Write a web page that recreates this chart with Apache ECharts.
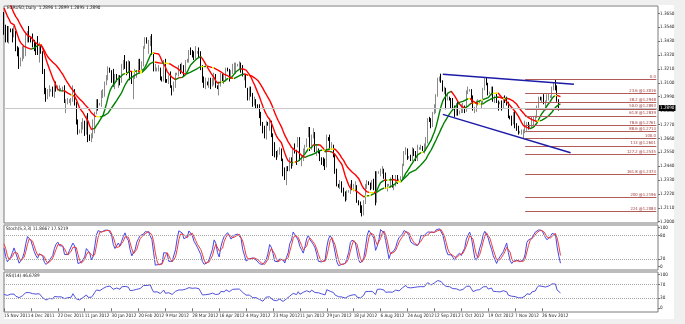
<!DOCTYPE html>
<html><head><meta charset="utf-8">
<script src="https://cdn.jsdelivr.net/npm/echarts@6/dist/echarts.min.js"></script>
<style>html,body{margin:0;padding:0;background:#f0f0f0}#c{width:685px;height:324px}</style>
</head><body><div id="c"></div>
<script>
// ---- data (prices in pips: price = 1 + value/10000) ----
// first WARMUP bars (18 Oct - 14 Nov 2011) only seed the indicators
const WARMUP = 24;
const opens = [
3690,3760,3760,3720,3890,3900,3910,3890,3910,4150,4140,4130,3860,3690,3780,3800,3790,3770,3770,3800,3530,3600,3750,3740,
3640,3530,3470,3450,3520,3510,3480,3500,3360,3340,3240,3290,3320,3320,3450,3460,
3450,3430,3400,3390,3380,3350,3380,3340,3180,3030,2990,3020,3040,3040,3000,3070,
3050,3050,3050,3050,3070,2940,2940,2960,2960,2970,3050,2940,2790,2720,2720,2760,
2780,2710,2820,2680,2660,2670,2740,2850,2960,2930,2930,3010,3040,3100,3140,3210,
3190,3140,3080,3160,3150,3150,3110,3230,3270,3260,3200,3260,3130,3100,3150,3150,
3190,3240,3230,3240,3380,3450,3420,3420,3460,3330,3200,3200,3210,3210,3140,3120,
3270,3120,3110,3140,3060,3050,3070,3170,3170,3230,3200,3230,3190,3270,3280,3340,
3330,3320,3300,3340,3340,3320,3230,3110,3070,3100,3090,3110,3080,3130,3160,3070,
3060,3080,3160,3120,3140,3210,3200,3150,3190,3230,3230,3240,3240,3240,3230,3160,
3160,3030,3010,3050,3010,2940,2960,2920,2910,2830,2780,2710,2670,2780,2770,2780,
2680,2580,2530,2520,2560,2560,2490,2380,2360,2430,2420,2500,2450,2570,2560,2600,
2620,2490,2500,2570,2600,2680,2700,2580,2680,2700,2560,2570,2550,2500,2490,2470,
2440,2660,2650,2590,2600,2530,2390,2290,2280,2290,2250,2220,2180,2240,2240,2290,
2270,2270,2280,2160,2140,2110,2060,2160,2290,2310,2300,2270,2300,2280,2170,2390,
2390,2400,2410,2370,2280,2290,2290,2340,2280,2290,2360,2330,2330,2350,2450,2550,
2570,2510,2510,2500,2570,2540,2510,2580,2580,2590,2570,2600,2630,2820,2800,2760,
2860,2900,3000,3130,3140,3110,3050,3050,2970,2980,2970,2930,2910,2860,2920,2860,
2870,2880,2900,2890,3030,3040,3040,2970,2880,2880,2930,2950,2950,2950,3050,3120,
3090,3020,3020,3060,2960,2960,2950,2940,2940,2910,2970,2960,2940,2830,2820,2790,
2810,2760,2750,2710,2710,2710,2710,2740,2780,2750,2760,2810,2820,2830,2910,2980,
2970,2970,2950,2960,2980,2990,2990,3060,3080,3070,2960,2896];
const highs = [
3790,3860,3780,3905,3910,3950,3960,3930,4245,4190,4150,4150,3870,3800,3870,3850,3800,3800,3830,3820,3640,3770,3770,3780,
3660,3560,3550,3550,3530,3530,3550,3510,3390,3380,3300,3390,3400,3490,3510,3550,
3460,3490,3440,3420,3470,3420,3390,3350,3210,3060,3050,3080,3050,3070,3090,3110,
3080,3080,3060,3070,3080,2970,2980,2970,2980,3080,3050,2950,2810,2730,2790,2820,
2800,2840,2860,2690,2700,2810,2870,2970,2970,2940,3040,3050,3110,3160,3230,3220,
3200,3210,3170,3170,3160,3160,3250,3280,3320,3270,3280,3270,3190,3160,3210,3200,
3290,3290,3270,3390,3460,3460,3440,3470,3486,3340,3250,3220,3240,3220,3150,3280,
3290,3130,3160,3190,3080,3110,3180,3180,3240,3250,3260,3240,3280,3290,3360,3380,
3360,3350,3390,3350,3380,3350,3240,3150,3140,3110,3140,3140,3140,3180,3170,3080,
3110,3180,3170,3170,3220,3220,3210,3200,3250,3260,3260,3250,3270,3260,3240,3170,
3170,3060,3070,3070,3020,2990,2970,2930,2930,2870,2790,2760,2800,2790,2820,2800,
2700,2630,2560,2570,2590,2580,2500,2430,2440,2440,2510,2510,2580,2620,2570,2670,
2670,2520,2580,2610,2660,2750,2750,2690,2740,2710,2600,2580,2560,2510,2510,2500,
2690,2670,2690,2630,2610,2540,2420,2300,2330,2320,2270,2240,2250,2250,2300,2330,
2300,2320,2290,2170,2160,2130,2170,2300,2330,2320,2310,2330,2340,2400,2400,2400,
2420,2440,2420,2390,2300,2300,2350,2370,2300,2370,2370,2340,2360,2460,2560,2590,
2580,2520,2530,2590,2580,2560,2610,2590,2610,2600,2620,2670,2820,2830,2820,2870,
2930,3010,3140,3150,3172,3120,3070,3060,3020,2990,2980,2980,2920,2940,2950,2880,
2930,2940,2920,3040,3070,3050,3050,3000,2910,2960,2970,2960,2960,3060,3140,3140,
3100,3030,3070,3070,3000,3020,2960,2950,2960,2990,3000,2990,2950,2840,2840,2870,
2880,2780,2760,2720,2730,2730,2800,2790,2790,2770,2830,2830,2840,2920,2990,2990,
2990,3010,2960,3010,3020,3000,3070,3100,3127,3080,2970,2899];
const lows = [
3655,3745,3650,3705,3880,3860,3850,3810,3900,4110,4120,3840,3610,3650,3660,3720,3760,3660,3730,3520,3480,3580,3730,3600,
3480,3420,3420,3410,3500,3420,3460,3350,3310,3210,3230,3270,3290,3310,3420,3420,
3420,3380,3350,3320,3320,3260,3330,3170,3010,2950,2970,2990,3030,2990,2980,3030,
3040,3030,3040,3030,2940,2860,2930,2940,2920,2950,2920,2770,2690,2700,2700,2730,
2680,2690,2630,2640,2630,2660,2700,2850,2880,2920,2910,2980,2990,3080,3120,3180,
3100,3070,3050,3110,3060,3080,3100,3200,3210,3160,3180,3120,3090,2970,3130,3140,
3180,3200,3200,3230,3370,3410,3330,3390,3320,3190,3190,3190,3190,3120,3110,3110,
3100,3100,3090,3060,3000,3030,3060,3160,3150,3170,3190,3150,3180,3260,3260,3320,
3300,3280,3290,3330,3300,3200,3100,3060,3050,3080,3060,3050,3070,3080,3060,3050,
3000,3070,3100,3090,3110,3190,3110,3130,3170,3180,3170,3230,3200,3180,3150,3120,
3060,2960,2960,2990,2910,2920,2900,2900,2820,2760,2700,2660,2650,2760,2720,2670,
2520,2510,2490,2510,2530,2480,2360,2330,2290,2400,2400,2420,2440,2540,2450,2590,
2480,2440,2480,2540,2590,2670,2560,2570,2660,2550,2520,2540,2480,2450,2440,2410,
2430,2640,2580,2570,2510,2380,2280,2270,2260,2230,2200,2160,2170,2230,2220,2250,
2240,2250,2150,2130,2070,2042,2050,2140,2260,2290,2250,2260,2250,2130,2150,2380,
2360,2380,2340,2260,2240,2280,2270,2270,2250,2280,2300,2320,2310,2340,2440,2530,
2490,2500,2480,2480,2520,2480,2480,2570,2570,2560,2540,2560,2620,2790,2740,2750,
2850,2860,2990,3110,3100,3030,3010,2890,2960,2960,2900,2900,2830,2840,2840,2850,
2860,2860,2860,2870,3010,3030,2950,2880,2860,2870,2920,2940,2900,2940,3040,3080,
3000,3010,3000,2950,2940,2940,2880,2930,2880,2900,2940,2920,2820,2810,2760,2770,
2740,2720,2690,2700,2690,2661,2700,2720,2730,2740,2750,2760,2790,2820,2900,2960,
2940,2930,2880,2950,2960,2980,2980,3040,3040,2950,2880,2885];
const closes = [
3760,3760,3720,3890,3900,3910,3890,3910,4150,4140,4130,3860,3690,3780,3800,3790,3770,3770,3800,3530,3600,3750,3740,3640,
3530,3470,3450,3520,3510,3480,3500,3360,3340,3240,3290,3320,3320,3450,3460,3450,
3430,3400,3390,3380,3350,3380,3340,3180,3030,2990,3020,3040,3040,3000,3070,3050,
3050,3050,3050,3070,2940,2940,2960,2960,2970,3050,2940,2790,2720,2720,2760,2780,
2710,2820,2680,2660,2670,2740,2850,2960,2930,2930,3010,3040,3100,3140,3210,3190,
3140,3080,3160,3150,3150,3110,3230,3270,3260,3200,3260,3130,3100,3150,3150,3190,
3240,3230,3240,3380,3450,3420,3420,3460,3330,3200,3200,3210,3210,3140,3120,3270,
3120,3110,3140,3060,3050,3070,3170,3170,3230,3200,3230,3190,3270,3280,3340,3330,
3320,3300,3340,3340,3320,3230,3110,3070,3100,3090,3110,3080,3130,3160,3070,3060,
3080,3160,3120,3140,3210,3200,3150,3190,3230,3230,3240,3240,3240,3230,3160,3160,
3080,3010,3050,3010,2940,2960,2920,2910,2830,2780,2710,2670,2780,2770,2780,2680,
2580,2530,2520,2560,2560,2490,2380,2360,2430,2420,2500,2450,2570,2560,2510,2620,
2490,2500,2570,2600,2640,2700,2580,2680,2700,2560,2570,2550,2500,2490,2470,2440,
2660,2650,2590,2600,2530,2390,2290,2280,2290,2250,2220,2180,2240,2240,2290,2270,
2270,2280,2160,2140,2110,2060,2160,2290,2310,2300,2270,2300,2280,2170,2390,2390,
2400,2410,2370,2280,2290,2290,2340,2280,2290,2360,2330,2330,2350,2450,2550,2570,
2510,2510,2500,2570,2540,2510,2580,2580,2590,2570,2600,2630,2820,2800,2760,2860,
2900,3000,3130,3140,3110,3050,3050,2970,2980,2970,2930,2910,2860,2920,2860,2870,
2880,2900,2890,3030,3040,3040,2970,2880,2880,2930,2950,2950,2950,3050,3120,3090,
3020,3020,3060,2960,2960,2950,2940,2940,2910,2970,2960,2940,2830,2820,2790,2810,
2760,2750,2710,2710,2710,2710,2740,2780,2750,2760,2810,2820,2830,2910,2980,2970,
2970,2950,2960,2980,2990,2990,3060,3080,3070,2960,2920,2890];

const dateLabels = ['15 Nov 2011','4 Dec 2011','22 Dec 2011','11 Jan 2012','30 Jan 2012','20 Feb 2012',
  '9 Mar 2012','28 Mar 2012','16 Apr 2012','4 May 2012','23 May 2012','11 Jun 2012','29 Jun 2012',
  '18 Jul 2012','6 Aug 2012','24 Aug 2012','12 Sep 2012','1 Oct 2012','19 Oct 2012','7 Nov 2012','26 Nov 2012'];
const BARS_PER_LABEL = 16;
const priceTicks = [1.2000,1.2110,1.2220,1.2330,1.2440,1.2550,1.2660,1.2770,1.2880,1.2990,1.3100,1.3210,1.3320,1.3430,1.3540,1.3650];
const stochTicks = [0,20,80,100];
const stochLevels = [20,80];
const rsiTicks = [0,30,70,100];
const rsiLevels = [30,70];

const fibRatios = [0,23.6,38.2,50,61.8,78.6,88.6,100,113,127.2,161.8,200,224];
const fibNames  = ['0.0','23.6','38.2','50.0','61.8','78.6','88.6','100.0','113','127.2','161.8','200','224'];
const fibHigh = 1.3126, fibLow = 1.2661;
const fibFromBar = 310, fibToBar = 388;
const channelUpper = [[261, 1.3167], [339, 1.3088]];
const channelLower = [[261, 1.2850], [337, 1.2546]];
const bidPrice = 1.2890;

const titleMain = 'EURUSD,Daily  1.2896 1.2899 1.2895 1.2890';
const titleStoch = 'Stoch(5,3,3) 11.8667 17.5219';
const titleRsi = 'RSI(14) 46.6789';

const SLOTS = 390;
const FAST_MA = 10, SLOW_MA = 20;
const STOCH_K = 5, STOCH_SLOW = 3, STOCH_D = 3;
const RSI_PERIOD = 14;

// ---- indicators ----
const toPrice = v => 1 + v / 10000;
const O = opens.map(toPrice), H = highs.map(toPrice), L = lows.map(toPrice), C = closes.map(toPrice);
const N = C.length;
function sma(a, n) { const r = []; let s = 0; for (let i = 0; i < a.length; i++) { s += a[i]; if (i >= n) s -= a[i - n]; r.push(i >= n - 1 ? s / n : null); } return r; }
const maFast = sma(C, FAST_MA), maSlow = sma(C, SLOW_MA);
const lowK = [], highK = [];
for (let i = 0; i < N; i++) { if (i >= STOCH_K - 1) { let lo = Infinity, hi = -Infinity; for (let j = i - STOCH_K + 1; j <= i; j++) { lo = Math.min(lo, L[j]); hi = Math.max(hi, H[j]); } lowK[i] = lo; highK[i] = hi; } }
const stMain = new Array(N).fill(null);
for (let i = STOCH_K + STOCH_SLOW - 2; i < N; i++) { let num = 0, den = 0; for (let j = i - STOCH_SLOW + 1; j <= i; j++) { num += C[j] - lowK[j]; den += highK[j] - lowK[j]; } stMain[i] = den === 0 ? 100 : 100 * num / den; }
const stSig = new Array(N).fill(null);
for (let i = STOCH_K + STOCH_SLOW + STOCH_D - 3; i < N; i++) { let s = 0; for (let j = i - STOCH_D + 1; j <= i; j++) s += stMain[j]; stSig[i] = s / STOCH_D; }
const rsi = new Array(N).fill(null);
let ag = 0, al = 0;
for (let i = 1; i < N; i++) {
  const d = C[i] - C[i - 1], g = Math.max(d, 0), l = Math.max(-d, 0);
  if (i <= RSI_PERIOD) { ag += g; al += l; if (i === RSI_PERIOD) { ag /= RSI_PERIOD; al /= RSI_PERIOD; rsi[i] = al === 0 ? 100 : 100 - 100 / (1 + ag / al); } }
  else { ag = (ag * (RSI_PERIOD - 1) + g) / RSI_PERIOD; al = (al * (RSI_PERIOD - 1) + l) / RSI_PERIOD; rsi[i] = al === 0 ? 100 : 100 - 100 / (1 + ag / al); }
}
const vis = a => a.slice(WARMUP);
const candles = [];
for (let i = WARMUP; i < N; i++) candles.push([O[i], C[i], L[i], H[i]]);
const cats = []; for (let i = 0; i < SLOTS; i++) cats.push(String(i));

const RED = '#ff0000', GREEN = '#008000', YELLOW = '#f5ea00';
function slopePieces(ma, eps) {
  const cols = [];
  for (let i = WARMUP; i < N; i++) { const d = ma[i] - ma[i - 1]; cols.push(d > eps ? GREEN : d < -eps ? RED : YELLOW); }
  const pieces = []; let s = 0;
  for (let i = 1; i <= cols.length; i++) { if (i === cols.length || cols[i] !== cols[s]) { pieces.push({ gt: s - 1, lte: i - 1, color: cols[s] }); s = i; } }
  return pieces;
}

const FF = '"DejaVu Sans Condensed","Liberation Sans Narrow","DejaVu Sans",sans-serif';
const FS = 4.6;
const fibColor = '#b05a5a';
const fibData = fibRatios.map((r, k) => {
  const v = fibHigh - r / 100 * (fibHigh - fibLow);
  const txt = (r === 0 || r === 100) ? fibNames[k] : fibNames[k] + ' @' + v.toFixed(4);
  return [{ coord: [fibFromBar, v], lineStyle: { color: fibColor, width: 1, type: 'solid' },
            label: { show: true, position: 'insideEndTop', formatter: txt, color: '#a03a3a', fontSize: 4.2, fontFamily: FF, distance: 0.5 } },
          { coord: [fibToBar, v] }];
});
const chanStyle = { color: '#1c1ca8', width: 1.5, type: 'solid' };
const markLines = [
  { yAxis: bidPrice, lineStyle: { color: '#c8c8c8', width: 1, type: 'solid' },
    label: { show: true, position: 'end', formatter: bidPrice.toFixed(4), color: '#fff', backgroundColor: '#000', padding: [1, 1, 0, 1], fontSize: FS, fontFamily: FF, distance: 1 } },
  ...fibData,
  [{ coord: channelUpper[0], lineStyle: chanStyle, label: { show: false } }, { coord: channelUpper[1] }],
  [{ coord: channelLower[0], lineStyle: chanStyle, label: { show: false } }, { coord: channelLower[1] }]
];

const labelIdx = (i) => i % BARS_PER_LABEL === 0 && i / BARS_PER_LABEL < dateLabels.length;
const GRIDS = [
  { left: 4, top: 6, width: 654, height: 217 },
  { left: 4, top: 225, width: 654, height: 45 },
  { left: 4, top: 272, width: 654, height: 40 }
];
const yLabel = { fontSize: FS, fontFamily: FF, color: '#222', margin: 2 };
const option = {
  animation: false,
  backgroundColor: '#f0f0f0',
  graphic: [
    { type: 'rect', z: -10, shape: { x: 4, y: 5, width: 670, height: 314 }, style: { fill: '#ffffff' }, silent: true },
    { type: 'text', z: 50, style: { text: titleMain, x: 7, y: 8, font: FS + 'px ' + FF, fill: '#111', textVerticalAlign: 'middle', verticalAlign: 'middle' } },
    { type: 'text', z: 50, style: { text: titleStoch, x: 6, y: 229, font: FS + 'px ' + FF, fill: '#111', textVerticalAlign: 'middle', verticalAlign: 'middle' } },
    { type: 'text', z: 50, style: { text: titleRsi, x: 6, y: 276, font: FS + 'px ' + FF, fill: '#111', textVerticalAlign: 'middle', verticalAlign: 'middle' } }
  ],
  grid: GRIDS.map(g => Object.assign({ show: true, borderColor: '#7a7a7a', borderWidth: 1, backgroundColor: 'transparent' }, g)),
  xAxis: [0, 1, 2].map(k => ({
    type: 'category', gridIndex: k, data: cats, boundaryGap: false,
    axisLine: { show: false }, splitLine: { show: false },
    axisTick: { show: k === 2, interval: labelIdx, length: 3, lineStyle: { color: '#707070' } },
    axisLabel: { show: k === 2, interval: labelIdx, align: 'left', margin: 1.5, fontSize: FS, fontFamily: FF, color: '#222',
      formatter: (v, i) => dateLabels[Math.round(i / BARS_PER_LABEL)] || '' }
  })),
  yAxis: [
    { type: 'value', gridIndex: 0, position: 'right', min: 1.1990, max: 1.3708, scale: true,
      axisLine: { show: false }, splitLine: { show: false },
      axisTick: { show: true, length: 2, customValues: priceTicks, lineStyle: { color: '#707070' } },
      axisLabel: Object.assign({ customValues: priceTicks, formatter: v => v.toFixed(4) }, yLabel) },
    { type: 'value', gridIndex: 1, position: 'right', min: -8.46, max: 106.9,
      axisLine: { show: false }, splitLine: { show: false },
      axisTick: { show: true, length: 2, customValues: stochTicks, lineStyle: { color: '#707070' } },
      axisLabel: Object.assign({ customValues: stochTicks, formatter: v => String(Math.round(v)) }, yLabel) },
    { type: 'value', gridIndex: 2, position: 'right', min: -10.9, max: 106.8,
      axisLine: { show: false }, splitLine: { show: false },
      axisTick: { show: true, length: 2, customValues: rsiTicks, lineStyle: { color: '#707070' } },
      axisLabel: Object.assign({ customValues: rsiTicks, formatter: v => String(Math.round(v)) }, yLabel) }
  ],
  visualMap: [
    { show: false, type: 'piecewise', seriesIndex: 1, dimension: 0, pieces: slopePieces(maFast, 0.0002), outOfRange: { color: RED } },
    { show: false, type: 'piecewise', seriesIndex: 2, dimension: 0, pieces: slopePieces(maSlow, 0.0002), outOfRange: { color: RED } }
  ],
  series: [
    { type: 'candlestick', xAxisIndex: 0, yAxisIndex: 0, data: candles, barWidth: 1, clip: true,
      itemStyle: { color: '#ffffff', color0: '#000000', borderColor: '#8a8a8a', borderColor0: '#000000', borderWidth: 1 },
      markLine: { silent: true, symbol: ['none', 'none'], animation: false, data: markLines } },
    { type: 'line', xAxisIndex: 0, yAxisIndex: 0, data: vis(maFast), showSymbol: false, lineStyle: { width: 1.4 }, z: 3 },
    { type: 'line', xAxisIndex: 0, yAxisIndex: 0, data: vis(maSlow), showSymbol: false, lineStyle: { width: 1.4 }, z: 3 },
    { type: 'line', xAxisIndex: 1, yAxisIndex: 1, data: vis(stMain), showSymbol: false, lineStyle: { width: 1, color: '#4646e6' }, itemStyle: { color: '#4646e6' },
      markLine: { silent: true, symbol: ['none', 'none'], label: { show: false }, lineStyle: { type: 'dotted', color: '#a8a8a8', width: 1 }, data: stochLevels.map(v => ({ yAxis: v })) } },
    { type: 'line', xAxisIndex: 1, yAxisIndex: 1, data: vis(stSig), showSymbol: false, lineStyle: { width: 1, color: '#f03c3c' }, itemStyle: { color: '#f03c3c' } },
    { type: 'line', xAxisIndex: 2, yAxisIndex: 2, data: vis(rsi), showSymbol: false, lineStyle: { width: 1, color: '#5050dc' }, itemStyle: { color: '#5050dc' },
      markLine: { silent: true, symbol: ['none', 'none'], label: { show: false }, lineStyle: { type: 'dotted', color: '#a8a8a8', width: 1 }, data: rsiLevels.map(v => ({ yAxis: v })) } }
  ]
};
const chart = echarts.init(document.getElementById('c'), null, { renderer: 'canvas', width: 685, height: 324 });
chart.setOption(option);
</script></body></html>
